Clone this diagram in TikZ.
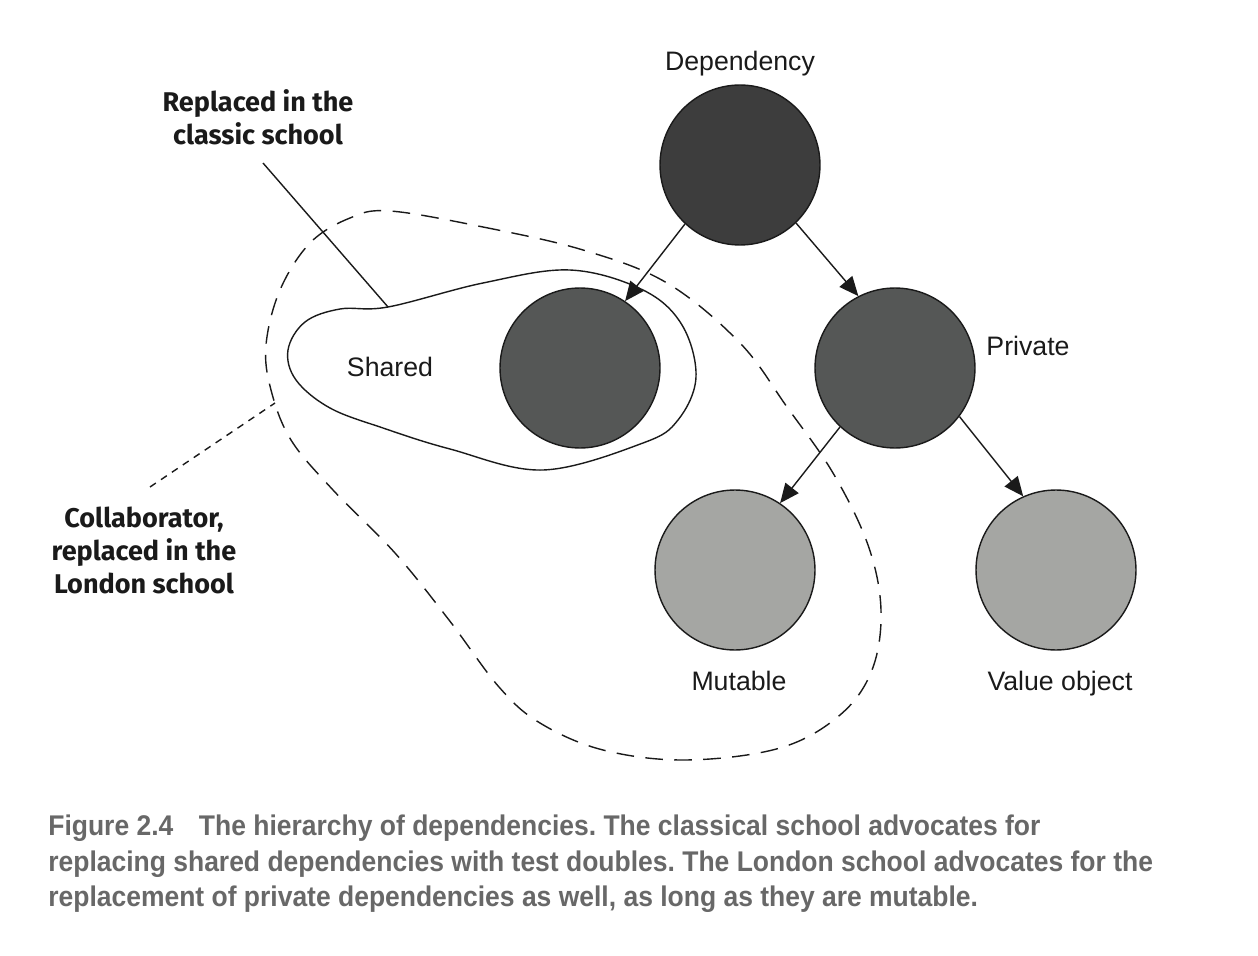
\documentclass[tikz,border=0pt]{standalone}
\usepackage{fontspec}
\setmainfont{Liberation Sans}
\newfontfamily\calloutfont{Fira Sans}
\newfontfamily\captionfont[FakeStretch=0.93]{Liberation Sans}
\usetikzlibrary{arrows.meta}
\definecolor{depfill}{HTML}{3D3D3D}
\definecolor{midfill}{HTML}{555756}
\definecolor{lightfill}{HTML}{A5A6A3}
\definecolor{edgecol}{HTML}{1A1A1A}
\definecolor{capgray}{HTML}{686868}
\begin{document}
\frenchspacing
\begin{tikzpicture}[x=0.02cm,y=-0.02cm,
  dot/.style={circle, draw=edgecol, line width=0.8pt, minimum size=3.2cm, inner sep=0pt},
  lbl/.style={font=\fontsize{15.2}{18}\selectfont, text=edgecol, inner sep=0pt, anchor=base},
  callout/.style={font=\calloutfont\bfseries\fontsize{15.4}{18.8}\selectfont, align=center, text=edgecol, inner sep=0pt},
  link/.style={draw=edgecol, line width=0.8pt, -{Triangle[length=11pt,width=9.5pt]}},
  blob/.style={draw=edgecol, line width=0.8pt},
  dashblob/.style={draw=edgecol, line width=0.8pt, dash pattern=on 10pt off 6.5pt},
  leader/.style={draw=edgecol, line width=0.8pt},
  dashleader/.style={draw=edgecol, line width=0.8pt, dash pattern=on 4pt off 3.5pt},
  captext/.style={font=\captionfont\bfseries\fontsize{16.2}{20}\selectfont, text=capgray, align=left, inner sep=0pt, anchor=north west}
]
\useasboundingbox (0,0) rectangle (1258,956);

% enclosing shapes
\draw[dashblob] plot[smooth cycle, tension=0.6] coordinates {
  (390,211) (483,227) (583,250) (667,283) (740,343) (787,407)
  (833,473) (868,545) (881,610) (872,670) (840,715) (780,748)
  (686,760) (603,750) (540,723) (499,687) (449,620) (395,553) (333,490)
  (291,440) (271,390) (266,345) (280,290) (310,243) (350,218)};
\draw[blob] plot[smooth cycle, tension=0.6] coordinates {
  (340,309) (388,307) (483,283) (570,270)
  (643,290) (682,325) (696,377) (678,420) (643,443) (543,470) (450,449)
  (383,428) (330,408) (296,380) (288,350) (305,322)};

% circles
\node[dot, fill=depfill] (dep) at (740,165) {};
\node[dot, fill=midfill] (shared) at (580,368) {};
\node[dot, fill=midfill] (private) at (895,368) {};
\node[dot, fill=lightfill] (mutable) at (735,570) {};
\node[dot, fill=lightfill] (value) at (1056,570) {};

% labels
\node[lbl] (deplbl) at (740,71) {Dependency};
\node[lbl] (sharedlbl) at (390,377) {Shared};
\node[lbl] (privatelbl) at (1028,356) {Private};
\node[lbl] (mutablelbl) at (739,690) {Mutable};
\node[lbl] (valuelbl) at (1060,690) {Value object};

% arrows
\draw[link] (dep.-133) -- (shared.56);
\draw[link] (dep.-46.5) -- (private.117.5);
\draw[link] (private.-133.5) -- (mutable.56);
\draw[link] (private.-37) -- (value.114);

% callouts
\node[callout] (classic) at (258,117) {Replaced in the\\classic school};
\node[callout] (london) at (144,550) {Collaborator,\\replaced in the\\London school};
\coordinate (classicend) at (263,163);
\coordinate (sharedpt) at (388,307);
\coordinate (londonend) at (150,487);
\coordinate (collabpt) at (275,403);
\draw[leader] (classicend) -- (sharedpt);
\draw[dashleader] (londonend) -- (collabpt);

% caption
\node[captext] (caption) at (48,815) {Figure 2.4\hspace{0.9em}The hierarchy of dependencies. The classical school advocates for\\
replacing shared dependencies with test doubles. The London school advocates for the\\
replacement of private dependencies as well, as long as they are mutable.};
\end{tikzpicture}
\end{document}
